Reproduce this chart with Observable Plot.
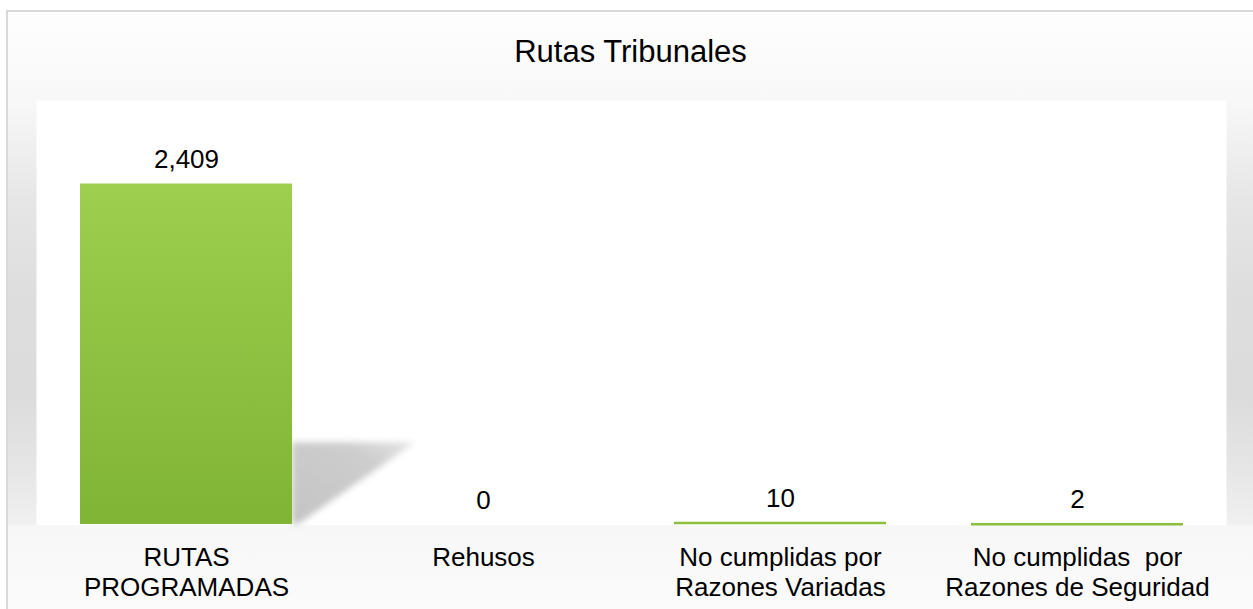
<!DOCTYPE html>
<html><head><meta charset="utf-8">
<script src="https://cdn.jsdelivr.net/npm/d3@7"></script>
<script src="https://cdn.jsdelivr.net/npm/@observablehq/plot@0.6"></script>
<style>
html,body{margin:0;padding:0;width:1253px;height:609px;overflow:hidden;background:#fff;font-family:"Liberation Sans",Arial,sans-serif;}
#bg{position:absolute;left:6px;top:10px;width:1300px;height:700px;border-left:2px solid #d9d9d9;border-top:2px solid #d9d9d9;
background:linear-gradient(to bottom,#fefefe 0px,#f8f8f8 88px,#e6e6e6 188px,#dddddd 288px,#dcdcdc 388px,#e6e6e6 458px,#f0f0f0 512px,#f7f7f7 514px,#fbfbfb 597px);}
#title{position:absolute;left:0;width:1261px;top:35.5px;text-align:center;font-size:31px;line-height:31px;color:#000;}
#chart{position:absolute;left:0;top:0;}
svg text{white-space:pre;}
</style></head><body>
<div id="bg"></div>
<div id="title">Rutas Tribunales</div>
<div id="chart"></div>
<script>
// ---- data ----
const categories = ["RUTAS\nPROGRAMADAS", "Rehusos", "No cumplidas por\nRazones Variadas", "No cumplidas  por\nRazones de Seguridad"];
const values = [2409, 0, 10, 2];
const yDomain = [0, 3000];

const data = categories.map((cat, i) => ({cat, value: values[i]}));
const fmt = d3.format(",");

// decorative perspective shadow + gradient defs, drawn through the plot's scales
const shadowMark = (index, scales) => {
  const x = scales.x, y = scales.y;
  const bw = typeof x.bandwidth === "function" ? x.bandwidth() : x.bandwidth;
  const g = d3.create("svg:g");
  const defs = g.append("defs");
  const grad = defs.append("linearGradient").attr("id", "barGrad").attr("x1", 0).attr("y1", 0).attr("x2", 0).attr("y2", 1);
  grad.append("stop").attr("offset", "0%").attr("stop-color", "#9ecf4f");
  grad.append("stop").attr("offset", "100%").attr("stop-color", "#80b434");
  const sg = defs.append("linearGradient").attr("id", "shadowGrad").attr("x1", 0).attr("y1", 1).attr("x2", 1).attr("y2", 0);
  sg.append("stop").attr("offset", "0%").attr("stop-color", "#c4c4c4");
  sg.append("stop").attr("offset", "70%").attr("stop-color", "#cdcdcd");
  sg.append("stop").attr("offset", "100%").attr("stop-color", "#e6e6e6");
  defs.append("filter").attr("id", "shBlur").attr("x", "-20%").attr("y", "-20%").attr("width", "140%").attr("height", "140%")
    .append("feGaussianBlur").attr("stdDeviation", 3);
  for (const d of data) {
    const L = x(d.cat), R = L + bw, T = y(d.value), B = y(0), h = B - T;
    if (h < 4) continue;
    const top = B - 0.24 * h;
    g.append("polygon")
      .attr("points", [[R, B], [R, top], [R + 0.58 * bw, top], [R + 0.03 * bw, B]].map(p => p.join(",")).join(" "))
      .attr("fill", "url(#shadowGrad)")
      .attr("filter", "url(#shBlur)");
  }
  return g.node();
};

const plot = Plot.plot({
  width: 1253,
  height: 609,
  marginLeft: 36,
  marginRight: 27,
  marginTop: 100,
  marginBottom: 85,
  style: {background: "transparent", fontFamily: "Liberation Sans, Arial, sans-serif", overflow: "visible", color: "#000"},
  x: {axis: null, domain: categories, paddingInner: 0.2874, paddingOuter: 0.1437},
  y: {axis: null, domain: yDomain},
  marks: [
    Plot.frame({fill: "white", stroke: "none", insetBottom: -1}),
    shadowMark,
    Plot.barY(data, {x: "cat", y: "value", fill: "url(#barGrad)"}),
    // very small bars stay visible as a thin green line
    Plot.tickY(data.filter(d => d.value > 0 && d.value < 100), {x: "cat", y: "value", stroke: "#8cbf3e", strokeWidth: 2.5}),
    Plot.text(data, {x: "cat", y: "value", text: d => fmt(d.value), lineAnchor: "bottom", dy: -16, fontSize: 26, fill: "#000"}),
    Plot.text(data, {x: "cat", text: "cat", frameAnchor: "bottom", lineAnchor: "top", dy: 20, fontSize: 26, lineHeight: 1.15, fill: "#000"})
  ]
});
document.getElementById("chart").appendChild(plot);
</script>
</body></html>
